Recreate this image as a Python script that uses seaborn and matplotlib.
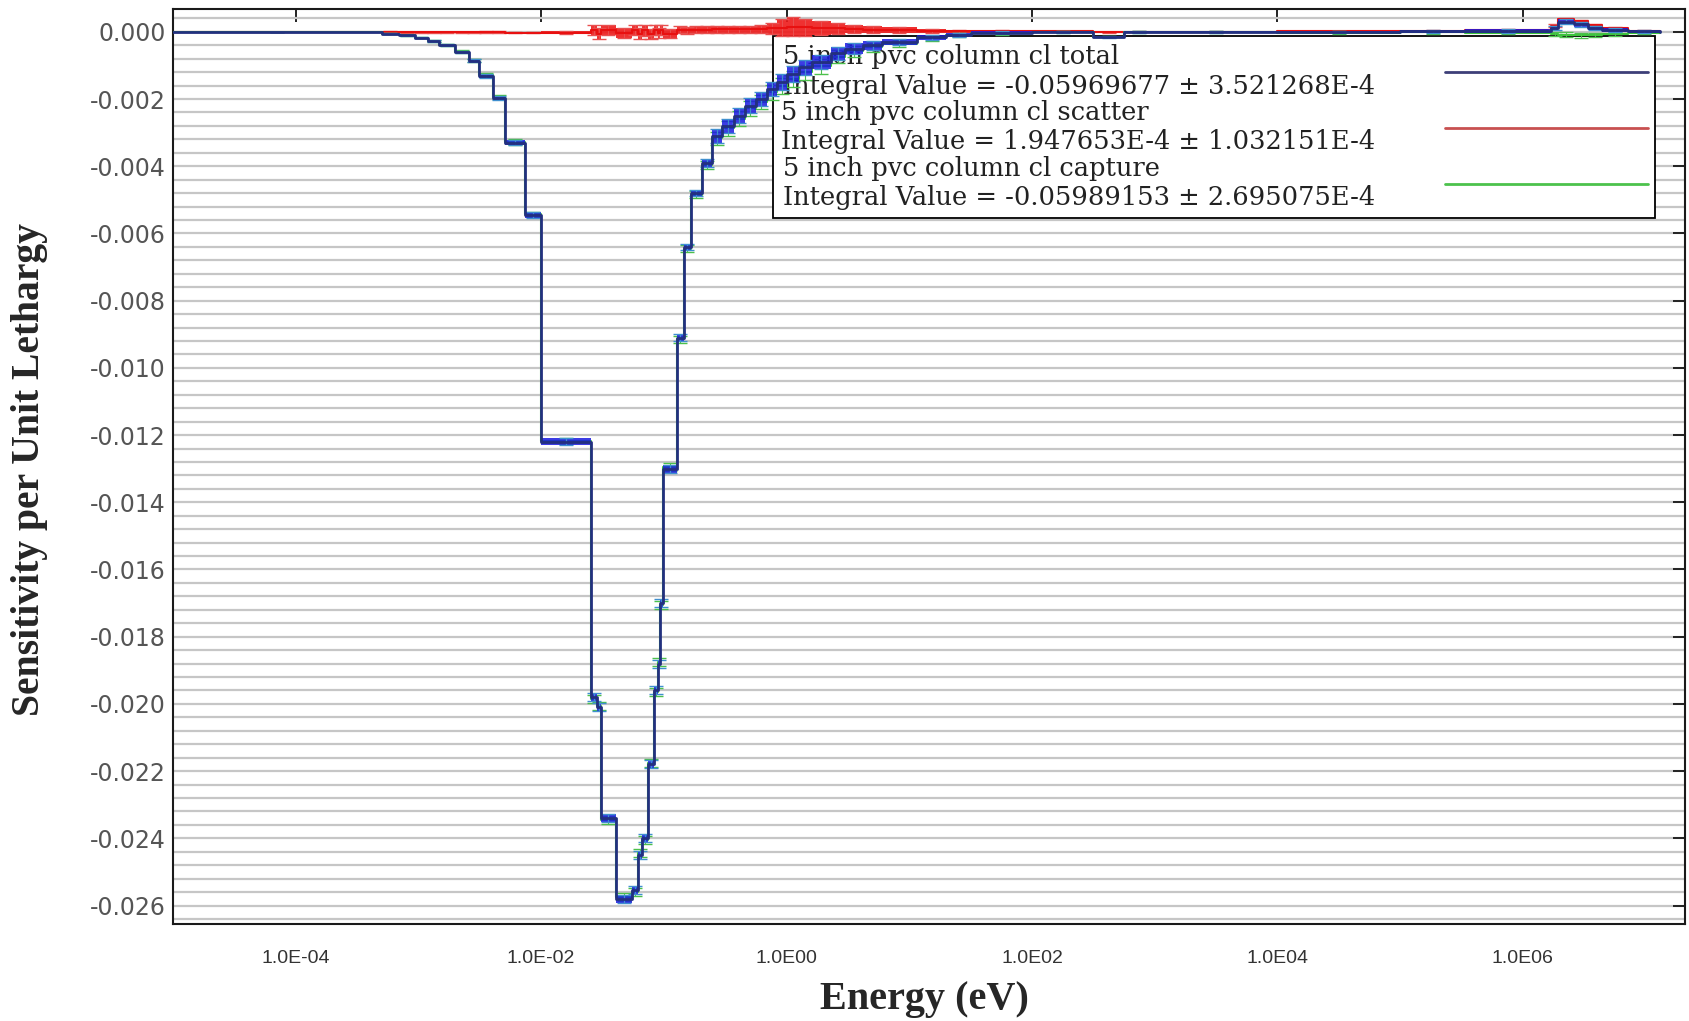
import matplotlib
matplotlib.use("Agg")
import matplotlib.pyplot as plt
import numpy as np
import pandas as pd
import seaborn as sns
from matplotlib.lines import Line2D
from matplotlib.ticker import FixedLocator, FixedFormatter, MultipleLocator, NullLocator

# bin lower edges (eV), values hold until the next edge
energy = [1e-5, 5e-4, 7e-4, 9.3e-4, 1.2e-3, 1.48e-3, 2.0e-3, 2.57e-3, 3.1e-3, 4.07e-3,
          5.1e-3, 7.4e-3, 1.0e-2, 2.57e-2, 2.84e-2, 3.06e-2, 4.06e-2, 5.47e-2, 6.12e-2, 6.6e-2,
          7.4e-2, 8.28e-2, 8.9e-2, 9.25e-2, 9.8e-2, 0.127, 0.145, 0.166, 0.204, 0.245,
          0.30, 0.37, 0.46, 0.56, 0.69, 0.83, 1.0, 1.26, 1.6, 2.3,
          3.0, 4.2, 6.0, 11.5, 20, 32, 100, 316, 562, 1000,
          1e4, 1e5, 3.4e5, 1.7e6, 1.95e6, 2.6e6, 3.4e6, 4.4e6, 7.2e6, 1.3e7]

total = [0.0, -0.00005, -0.00010, -0.00017, -0.00028, -0.00040, -0.00060, -0.00086, -0.00130, -0.00196,
         -0.00330, -0.00545, -0.01220, -0.01980, -0.02010, -0.02340, -0.02580, -0.02554, -0.02450, -0.02400,
         -0.02180, -0.01960, -0.01880, -0.01700, -0.01300, -0.00910, -0.00640, -0.00480, -0.00390, -0.00310,
         -0.00280, -0.00250, -0.00220, -0.00200, -0.00170, -0.00150, -0.00125, -0.00106, -0.00090, -0.00064,
         -0.00050, -0.00040, -0.00030, -0.00016, -0.00008, -0.00003, 0.0, -0.00015, -0.00001, -0.00001,
         -0.00001, 0.00001, 0.00003, 0.00012, 0.00030, 0.00022, 0.00012, 0.00005, 0.00001, 0.0]

total_err = [0.0, 0.00001, 0.00002, 0.00002, 0.00003, 0.00003, 0.00004, 0.00005, 0.00006, 0.00006,
             0.00008, 0.00008, 0.00010, 0.00012, 0.00012, 0.00012, 0.00012, 0.00012, 0.00012, 0.00012,
             0.00012, 0.00012, 0.00012, 0.00012, 0.00012, 0.00010, 0.00010, 0.00010, 0.00012, 0.00020,
             0.00022, 0.00022, 0.00022, 0.00022, 0.00022, 0.00024, 0.00024, 0.00022, 0.00022, 0.00020,
             0.00016, 0.00013, 0.00010, 0.00008, 0.00006, 0.00004, 0.00002, 0.00002, 0.00002, 0.00002,
             0.00003, 0.00004, 0.00005, 0.00006, 0.00007, 0.00007, 0.00006, 0.00005, 0.00003, 0.0]

scatter = [0.0, 0.0, -0.00001, -0.00001, -0.00001, -0.00001, -0.00001, -0.00001, -0.00001, -0.00001,
           -0.00002, -0.00002, -0.00002, 0.00005, -0.00005, 0.00005, -0.00004, 0.00006, -0.00005, 0.00004,
           -0.00006, 0.00005, -0.00004, 0.00005, -0.00005, 0.00006, 0.00005, 0.00006, 0.00006, 0.00007,
           0.00007, 0.00008, 0.00008, 0.00009, 0.00010, 0.00012, 0.00015, 0.00014, 0.00012, 0.00010,
           0.00008, 0.00006, 0.00005, 0.00003, 0.00002, 0.00001, 0.00001, -0.00001, 0.0, 0.0,
           0.00001, 0.00002, 0.00005, 0.00018, 0.00038, 0.00032, 0.00020, 0.00011, 0.00003, 0.0]

scatter_err = [0.0, 0.00001, 0.00001, 0.00001, 0.00001, 0.00001, 0.00001, 0.00001, 0.00002, 0.00002,
               0.00002, 0.00002, 0.00003, 0.00015, 0.00015, 0.00015, 0.00015, 0.00015, 0.00015, 0.00015,
               0.00015, 0.00015, 0.00015, 0.00015, 0.00012, 0.00010, 0.00010, 0.00010, 0.00010, 0.00010,
               0.00010, 0.00010, 0.00010, 0.00012, 0.00015, 0.00025, 0.00028, 0.00025, 0.00020, 0.00015,
               0.00012, 0.00010, 0.00008, 0.00005, 0.00004, 0.00003, 0.00002, 0.00001, 0.00001, 0.00001,
               0.00001, 0.00002, 0.00003, 0.00004, 0.00004, 0.00004, 0.00003, 0.00003, 0.00002, 0.0]

capture = [0.0, -0.00005, -0.00010, -0.00017, -0.00027, -0.00039, -0.00059, -0.00085, -0.00129, -0.00195,
           -0.00328, -0.00543, -0.01218, -0.01985, -0.02005, -0.02345, -0.02575, -0.02560, -0.02445, -0.02405,
           -0.02175, -0.01965, -0.01875, -0.01705, -0.01295, -0.00915, -0.00645, -0.00485, -0.00395, -0.00317,
           -0.00287, -0.00258, -0.00228, -0.00209, -0.00180, -0.00162, -0.00140, -0.00120, -0.00102, -0.00074,
           -0.00058, -0.00046, -0.00035, -0.00019, -0.00010, -0.00004, -0.00001, -0.00014, -0.00001, -0.00001,
           -0.00002, -0.00001, -0.00002, -0.00006, -0.00008, -0.00010, -0.00008, -0.00006, -0.00002, 0.0]

xtick_values = [1e-4, 1e-2, 1e0, 1e2, 1e4, 1e6]
xtick_labels = ["1.0E-04", "1.0E-02", "1.0E00", "1.0E02", "1.0E04", "1.0E06"]
ytick_values = [0.0, -0.002, -0.004, -0.006, -0.008, -0.010, -0.012, -0.014,
                -0.016, -0.018, -0.020, -0.022, -0.024, -0.026]
ytick_labels = ["0.000", "-0.002", "-0.004", "-0.006", "-0.008", "-0.010", "-0.012", "-0.014",
                "-0.016", "-0.018", "-0.020", "-0.022", "-0.024", "-0.026"]

legend_labels = [
    "5 inch pvc column cl total\nIntegral Value = -0.05969677 \u00b1 3.521268E-4",
    "5 inch pvc column cl scatter\nIntegral Value = 1.947653E-4 \u00b1 1.032151E-4",
    "5 inch pvc column cl capture\nIntegral Value = -0.05989153 \u00b1 2.695075E-4",
]

sns.set_style("white")

df = pd.DataFrame({"energy": energy, "total": total, "scatter": scatter, "capture": capture})
e = np.array(energy)
mid = np.sqrt(e[:-1] * e[1:])

fig = plt.figure(figsize=(16.9, 10.21), dpi=100)
ax = fig.add_axes([0.1024, 0.0950, 0.8947, 0.8962])
ax.set_xscale("log")

# scatter (red)
ax.fill_between(energy, np.array(scatter) - scatter_err, np.array(scatter) + scatter_err,
                step="post", color="#ee1a1a", lw=0, alpha=0.9, zorder=2.6)
ax.errorbar(mid, scatter[:-1], yerr=scatter_err[:-1], fmt="none", ecolor="#e85050",
            elinewidth=0.7, capsize=5, zorder=2.7)
sns.lineplot(data=df, x="energy", y="scatter", color="#e81010", lw=1.5, drawstyle="steps-post",
             estimator=None, sort=False, ax=ax, zorder=2.8)

# capture (green)
sns.lineplot(data=df, x="energy", y="capture", color="#3cc43c", lw=1.5, drawstyle="steps-post",
             estimator=None, sort=False, ax=ax, zorder=2.9)
ax.errorbar(mid, capture[:-1], yerr=total_err[:-1], fmt="none", ecolor="#4cc04c",
            elinewidth=0.8, capsize=5, zorder=2.9)

# total (blue)
ax.fill_between(energy, np.array(total) - total_err, np.array(total) + total_err,
                step="post", color="#1a1ae0", lw=0, alpha=0.85, zorder=3.0)
ax.errorbar(mid, total[:-1], yerr=total_err[:-1], fmt="none", ecolor="#3f8fcf",
            elinewidth=0.9, capsize=5, zorder=3.1)
sns.lineplot(data=df, x="energy", y="total", color="#23307f", lw=2.0, drawstyle="steps-post",
             estimator=None, sort=False, ax=ax, zorder=3.2)

ax.set_xlim(1e-5, 2.1e7)
ax.set_ylim(-0.02655, 0.00068)

ax.xaxis.set_major_locator(FixedLocator(xtick_values))
ax.xaxis.set_major_formatter(FixedFormatter(xtick_labels))
ax.xaxis.set_minor_locator(NullLocator())
ax.yaxis.set_major_locator(FixedLocator(ytick_values))
ax.yaxis.set_major_formatter(FixedFormatter(ytick_labels))
ax.yaxis.set_minor_locator(MultipleLocator(0.0004))

ax.set_axisbelow(True)
ax.grid(True, axis="y", which="both", color="#c6c6c6", lw=1.6)
ax.grid(False, axis="x", which="both")

ax.tick_params(which="major", direction="in", length=9, width=1.4, top=True, right=True,
               color="#222222")
ax.tick_params(which="minor", length=0)
ax.tick_params(axis="y", labelsize=17, labelcolor="#555555", pad=5)
ax.tick_params(axis="x", labelsize=14, labelcolor="#333333", pad=19)
for lbl in ax.get_xticklabels():
    lbl.set_family("Liberation Sans")
for lbl in ax.get_yticklabels():
    lbl.set_family("DejaVu Sans")

for sp in ax.spines.values():
    sp.set_color("#1a1a1a")
    sp.set_linewidth(1.5)

ax.set_xlabel("Energy (eV)", fontsize=29, fontweight="bold", family="Liberation Serif")
ax.set_ylabel("Sensitivity per Unit Lethargy", fontsize=28.5, fontweight="bold",
              family="Liberation Serif")
ax.xaxis.label.set_va("center")
ax.xaxis.set_label_coords(0.497, -0.083)
ax.yaxis.set_label_coords(-0.083, 0.497)

handles = [Line2D([], [], color="#3d3f78", lw=2),
           Line2D([], [], color="#c85050", lw=2),
           Line2D([], [], color="#4cc24c", lw=2)]
leg = ax.legend(handles, legend_labels, loc="upper left", bbox_to_anchor=(0.397, 0.970),
                borderaxespad=0, markerfirst=False, frameon=True, fancybox=False,
                edgecolor="black", framealpha=1, prop={"family": "DejaVu Serif", "size": 18.5},
                handlelength=7.9, handletextpad=2.7, labelspacing=0.05, borderpad=0.3)
leg.get_frame().set_linewidth(1.3)
for t in leg.get_texts():
    t.set_linespacing(1.22)
    t.set_color("#222222")
leg.set_zorder(2.2)

plt.savefig("out.png", dpi=100)
